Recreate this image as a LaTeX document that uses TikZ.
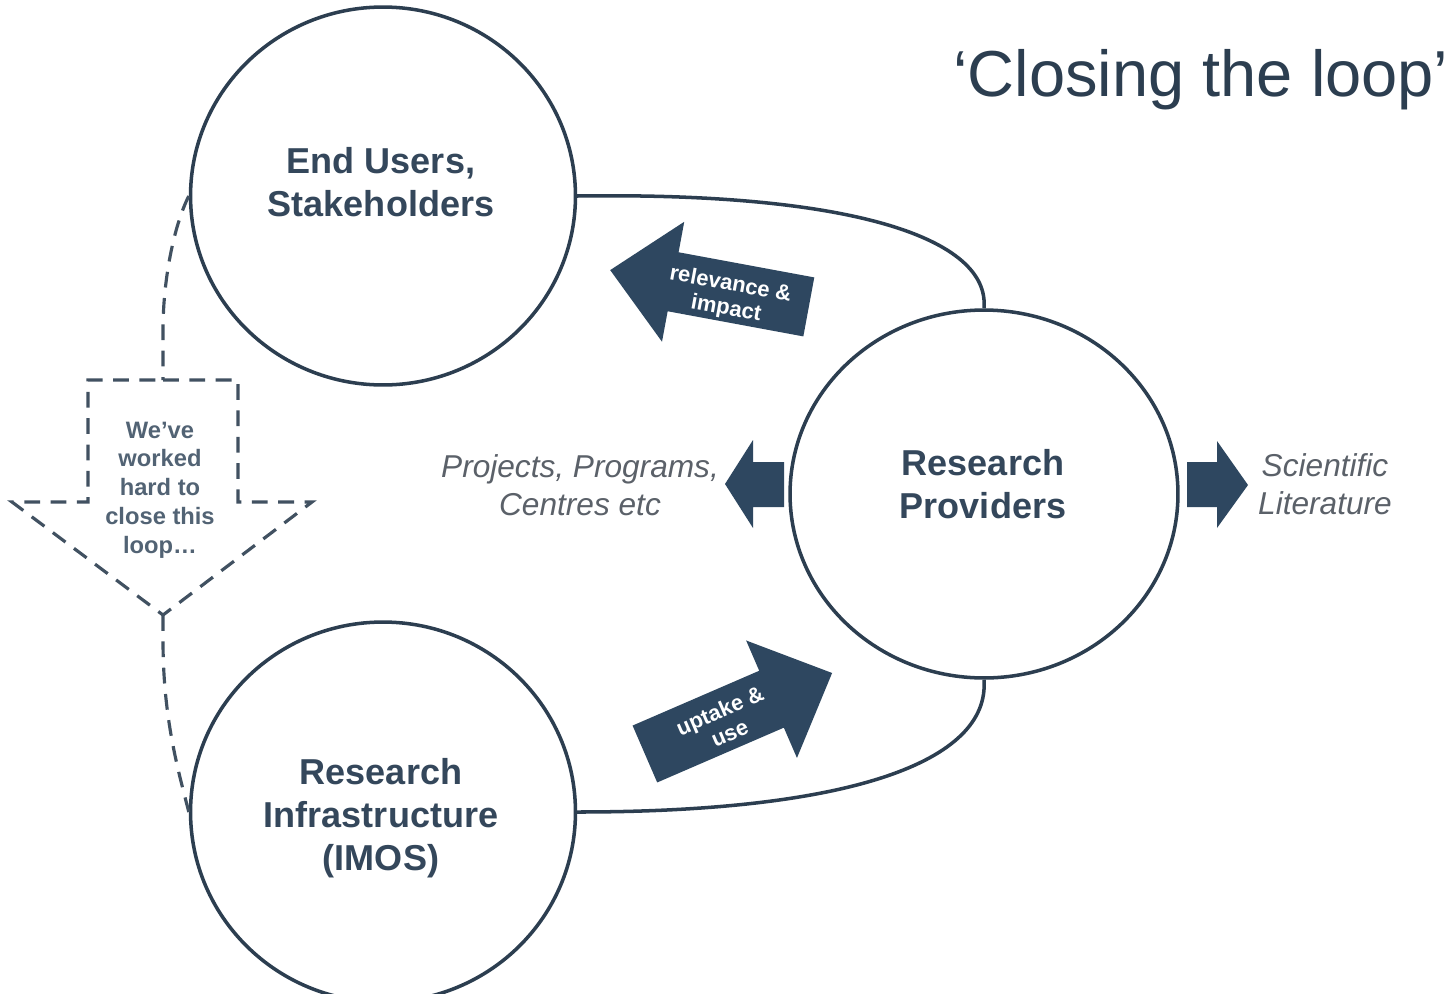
\documentclass[tikz,border=0pt]{standalone}
\usepackage{fontspec}
\setmainfont{Liberation Sans}
\usetikzlibrary{shapes.geometric}
\definecolor{navy}{HTML}{2E4760}
\definecolor{linec}{HTML}{2C3E50}
\definecolor{txt}{HTML}{34475B}
\definecolor{greytxt}{HTML}{5B6169}
\begin{document}
\begin{tikzpicture}[x=0.02cm,y=-0.02cm,
  bubble/.style={ellipse,draw=linec,line width=2pt,inner sep=0pt},
  bubbletext/.style={font=\fontsize{20.5}{24.5}\selectfont\bfseries,text=txt,align=center},
  sidetext/.style={font=\fontsize{18}{21.5}\selectfont\itshape,text=greytxt,align=center},
  loopline/.style={draw=linec,line width=2pt},
  dashline/.style={draw=linec!90,line width=1.8pt,dash pattern=on 9pt off 6pt},
  blockarrow/.style={fill=navy},
  arrowtext/.style={font=\fontsize{12.5}{14}\selectfont\bfseries,text=white,align=center,transform shape}]
\fill[white] (0,0) rectangle (1454,994);
\useasboundingbox (0,0) rectangle (1454,994);

% title
\node[font=\fontsize{37}{40}\selectfont,text=linec,anchor=base] (title) at (1201,96) {‘Closing the loop’};

% circles
\node[bubble,minimum width=7.7cm,minimum height=7.56cm] (eu) at (383,196) {};
\node[bubble,minimum width=7.76cm,minimum height=7.36cm] (rp) at (984,494) {};
\node[bubble,minimum width=7.7cm,minimum height=7.6cm] (ri) at (383,812) {};

\node[bubbletext] (eut) at (381,182) {End Users,\\Stakeholders};
\node[bubbletext] (rpt) at (983,484) {Research\\Providers};
\node[bubbletext] (rit) at (381,818) {Research\\Infrastructure\\(IMOS)};

% loop connectors
\draw[loopline] (eu.east) .. controls +(275,-4) and +(6,-70) .. (rp.north);
\draw[loopline] (ri.east) .. controls +(273,0) and +(6,82) .. (rp.south);

% dashed loop
\coordinate (boxtop) at (163,380);
\coordinate (boxtip) at (163,615);
\draw[dashline] (boxtop) -- (238,380) -- (238,502) -- (312,502) -- (boxtip) -- (12,502) -- (88,502) -- (88,380) -- cycle;
\draw[dashline] (eu.west) .. controls +(-15,30) and +(0,-50) .. (163,330) -- (boxtop);
\draw[dashline] (boxtip) -- (163,640) .. controls +(0,80) and +(-10,-40) .. (ri.west);
\node[font=\fontsize{13.5}{16.4}\selectfont\bfseries,text=txt!85,align=center] (note) at (160,490) {We’ve\\worked\\hard to\\close this\\loop…};

% relevance arrow
\begin{scope}[shift={(709.5,288.5)},rotate=-10.5]
  \fill[blockarrow] (-101,0) -- (-37,-61) -- (-37,-30) -- (101,-30) -- (101,30) -- (-37,30) -- (-37,61) -- cycle;
  \node[arrowtext] (relev) at (20,5) {relevance \&\\impact};
\end{scope}

% uptake arrow
\begin{scope}[shift={(738.5,713.5)},rotate=23.4]
  \fill[blockarrow] (102,0) -- (36,-64) -- (36,-31) -- (-102,-31) -- (-102,31) -- (36,31) -- (36,64) -- cycle;
  \node[arrowtext] (uptake) at (-16,2) {uptake \&\\use};
\end{scope}

% small arrows
\fill[blockarrow] (725,484) -- (753,440) -- (753,462) -- (784,462) -- (784,507) -- (753,507) -- (753,528) -- cycle;
\fill[blockarrow] (1248,485) -- (1217,441) -- (1217,462) -- (1187,462) -- (1187,507) -- (1217,507) -- (1217,528) -- cycle;

\node[sidetext] (proj) at (580,485) {Projects, Programs,\\Centres etc};
\node[sidetext] (sci) at (1325,484) {Scientific\\Literature};
\end{tikzpicture}
\end{document}
